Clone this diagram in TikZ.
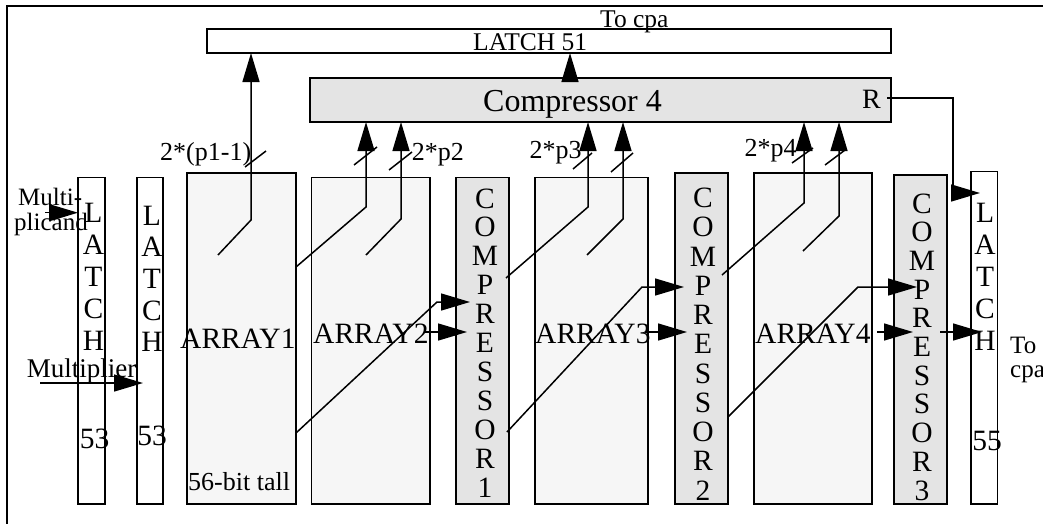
\documentclass[tikz,border=0pt]{standalone}
\usepackage{fontspec}
\setmainfont{Liberation Serif}
\usetikzlibrary{arrows.meta}
\definecolor{arrfill}{HTML}{F6F6F6}
\definecolor{cmpfill}{HTML}{E4E4E4}
\begin{document}
\begin{tikzpicture}[x=1pt,y=-1pt,
  box/.style={draw, line width=1.6pt, inner sep=0pt, outer sep=0pt},
  latchbox/.style={box, fill=white},
  arraybox/.style={box, fill=arrfill},
  cmpbox/.style={box, fill=cmpfill},
  conn/.style={line width=1.5pt},
  arr/.style={conn, -{Triangle[length=29pt,width=17pt]}},
  tick/.style={line width=1.5pt},
  big/.style={font=\fontsize{29.5}{29.5}\selectfont, inner sep=0pt, anchor=base},
  lbl/.style={font=\fontsize{26}{26}\selectfont, inner sep=0pt, anchor=base west},
]
\useasboundingbox (0,0) rectangle (1043,523);
\clip (0,0) rectangle (1043,523);
% outer frame
\draw[line width=1.6pt] (7,540) -- (7,6) -- (1060,6);

% boxes
\node[latchbox, minimum width=684, minimum height=24] (L51) at (549,41) {};
\node[cmpbox, minimum width=581, minimum height=44] (C4) at (600.5,100) {};
\node[latchbox, minimum width=27, minimum height=326.5] (L1) at (91.5,340.75) {};
\node[latchbox, minimum width=26, minimum height=326.5] (L2) at (150,340.75) {};
\node[arraybox, minimum width=109, minimum height=331] (A1) at (241.5,338.5) {};
\node[arraybox, minimum width=118.5, minimum height=326.5] (A2) at (370.75,340.75) {};
\node[cmpbox, minimum width=53, minimum height=326.5] (CP1) at (482.5,340.75) {};
\node[arraybox, minimum width=113, minimum height=326.5] (A3) at (591.5,340.75) {};
\node[cmpbox, minimum width=53, minimum height=331] (CP2) at (701.5,338.5) {};
\node[arraybox, minimum width=118, minimum height=331] (A4) at (813,338.5) {};
\node[cmpbox, minimum width=53, minimum height=329] (CP3) at (920.5,339.5) {};
\node[latchbox, minimum width=26.5, minimum height=332.5] (L55) at (984.25,337.75) {};

% texts in top boxes
\node[font=\fontsize{25.5}{25.5}\selectfont, inner sep=0pt, anchor=base west] (tocpa1) at (600,27) {To cpa};
\node[font=\fontsize{25.5}{25.5}\selectfont, inner sep=0pt, anchor=base west] (t51) at (473,50) {LATCH 51};
\node[font=\fontsize{32}{32}\selectfont, inner sep=0pt, anchor=base west] (tc4) at (483,111.5) {Compressor 4};
\node[font=\fontsize{28}{28}\selectfont, inner sep=0pt, anchor=base west] (tR) at (862,108.3) {R};

% latch letters
\foreach \c [count=\i from 0] in {L,A,T,C,H}
  \node[big] (la\i) at (93.5,{222+32*\i}) {\c};
\foreach \c [count=\i from 0] in {L,A,T,C,H}
  \node[big] (lb\i) at (152,{225+31.7*\i}) {\c};
\foreach \c [count=\i from 0] in {L,A,T,C,H}
  \node[big] (lc\i) at (985,{222+32*\i}) {\c};
\node[big] (n53a) at (94.5,448) {53};
\node[big] (n53b) at (152,445) {53};
\node[big] (n55) at (987,450) {55};

% compressor letters
\foreach \c [count=\i from 0] in {C,O,M,P,R,E,S,S,O,R,1}
  \node[big] (ca\i) at (485,{208+28.9*\i}) {\c};
\foreach \c [count=\i from 0] in {C,O,M,P,R,E,S,S,O,R,2}
  \node[big] (cb\i) at (703,{207.5+29.25*\i}) {\c};
\foreach \c [count=\i from 0] in {C,O,M,P,R,E,S,S,O,R,3}
  \node[big] (cc\i) at (922,{213+28.7*\i}) {\c};

% array labels
\node[big, anchor=base west] (ta1) at (180,348) {ARRAY1};
\node[big, anchor=base west] (ta2) at (313,343) {ARRAY2};
\node[big, anchor=base west] (ta3) at (535,343) {ARRAY3};
\node[big, anchor=base west] (ta4) at (755,343) {ARRAY4};

% small labels
\node[lbl] (tall) at (188,490.5) {56-bit tall};
\node[lbl, font=\fontsize{27}{27}\selectfont] (mplier) at (26.7,377) {Multiplier};
\node[lbl, font=\fontsize{25}{25}\selectfont] (mcand1) at (18,205) {Multi-};
\node[lbl, font=\fontsize{25}{25}\selectfont] (mcand2) at (14,230) {plicand};
\node[lbl] (p1) at (160,160) {2*(p1-1)};
\node[lbl] (p2) at (411.7,160) {2*p2};
\node[lbl] (p3) at (529.3,158.3) {2*p3};
\node[lbl] (p4) at (744.3,156.7) {2*p4};
\node[lbl, font=\fontsize{25}{25}\selectfont] (to2) at (1010,353) {To};
\node[lbl, font=\fontsize{25}{25}\selectfont] (cpa2) at (1010,377) {cpa};

% bend coordinates
\coordinate (s1) at (218,255);   \coordinate (k1) at (251,220);
\coordinate (s2a) at (A1.east |- 0,267); \coordinate (k2a) at (366,207);
\coordinate (s2b) at (366,255);  \coordinate (k2b) at (401,219);
\coordinate (s3a) at (506,278);  \coordinate (k3a) at (588,207);
\coordinate (s3b) at (587,255);  \coordinate (k3b) at (623,219);
\coordinate (s4a) at (722,275);  \coordinate (k4a) at (804,203);
\coordinate (s4b) at (803,251);  \coordinate (k4b) at (839,216);
\coordinate (rs) at (887,98);    \coordinate (rk) at (953,98);
\coordinate (rk2) at (953,193);  \coordinate (rt) at (980,193);
\coordinate (mc) at (45,212.7);
\coordinate (mp) at (40,383);    \coordinate (mpt) at (143,383);
\coordinate (d1s) at (A1.east |- 0,433); \coordinate (d1k) at (437,302); \coordinate (d1t) at (470,302);
\coordinate (h2s) at (425,332);  \coordinate (h2t) at (467,332);
\coordinate (d2s) at (507,432);  \coordinate (d2k) at (642,287); \coordinate (d2t) at (684,287);
\coordinate (h3s) at (645,332);  \coordinate (h3t) at (687,332);
\coordinate (d3s) at (728,417);  \coordinate (d3k) at (858,287); \coordinate (d3t) at (917,287);
\coordinate (h4s) at (877,332);  \coordinate (h4t) at (913,332);
\coordinate (h5s) at (940,332);  \coordinate (h5t) at (982,332);

% connectors
\draw[arr] (s1) -- (k1) -- (k1 |- L51.south);
\draw[arr] (s2a) -- (k2a) -- (k2a |- C4.south);
\draw[arr] (s2b) -- (k2b) -- (k2b |- C4.south);
\draw[arr] (s3a) -- (k3a) -- (k3a |- C4.south);
\draw[arr] (s3b) -- (k3b) -- (k3b |- C4.south);
\draw[arr] (s4a) -- (k4a) -- (k4a |- C4.south);
\draw[arr] (s4b) -- (k4b) -- (k4b |- C4.south);
\draw[arr] (C4.north -| 570,0) -- (L51.south -| 570,0);
\draw[arr] (rs) -- (rk) -- (rk2) -- (rt);
\draw[arr] (mc) -- (mc -| L1.west);
\draw[arr] (mp) -- (mpt);
\draw[arr] (d1s) -- (d1k) -- (d1t);
\draw[arr] (h2s) -- (h2t);
\draw[arr] (d2s) -- (d2k) -- (d2t);
\draw[arr] (h3s) -- (h3t);
\draw[arr] (d3s) -- (d3k) -- (d3t);
\draw[arr] (h4s) -- (h4t);
\draw[arr] (h5s) -- (h5t);

% bus ticks
\draw[tick] (245,167) -- (266,151);
\draw[tick] (354,165) -- (377,147);
\draw[tick] (389,170) -- (412,152);
\draw[tick] (573,169) -- (592,153);
\draw[tick] (611,172) -- (633,153);
\draw[tick] (792,163) -- (813,148);
\draw[tick] (825,165) -- (845,150);
\end{tikzpicture}
\end{document}
